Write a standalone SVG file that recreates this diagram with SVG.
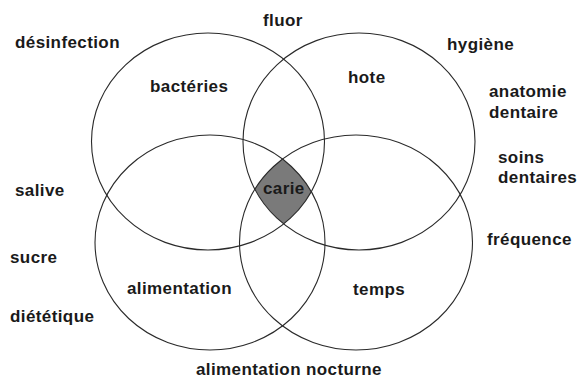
<svg xmlns="http://www.w3.org/2000/svg" width="579" height="378" viewBox="0 0 579 378">
<style>
.c{fill:none;stroke:#2a2a2a;stroke-width:1.1}
text{font-family:"Liberation Sans",Arial,Helvetica,sans-serif;font-weight:bold;font-size:17px;fill:#1a1a1a;letter-spacing:0.4px}
</style>
<defs>
<clipPath id="k1"><ellipse cx="208" cy="141.5" rx="116.5" ry="108.5"/></clipPath>
<clipPath id="k2"><ellipse cx="359" cy="141.5" rx="116" ry="108.5"/></clipPath>
<clipPath id="k3"><ellipse cx="210" cy="242.5" rx="115" ry="107.5"/></clipPath>
</defs>
<rect width="579" height="378" fill="#ffffff"/>
<g id="carie">
<g clip-path="url(#k1)"><g clip-path="url(#k2)"><g clip-path="url(#k3)">
<ellipse cx="356" cy="242.5" rx="116.5" ry="107.5" fill="#7a7a7a"/>
</g></g></g>
<text x="263" y="194">carie</text>
</g>
<g id="connectors"></g>
<g id="bacteries"><ellipse class="c" cx="208" cy="141.5" rx="116.5" ry="108.5"/><text x="150" y="92">bactéries</text></g>
<g id="hote"><ellipse class="c" cx="359" cy="141.5" rx="116" ry="108.5"/><text x="348" y="83">hote</text></g>
<g id="alimentation"><ellipse class="c" cx="210" cy="242.5" rx="115" ry="107.5"/><text x="127" y="294">alimentation</text></g>
<g id="temps"><ellipse class="c" cx="356" cy="242.5" rx="116.5" ry="107.5"/><text x="353" y="295">temps</text></g>
<g id="labels">
<text x="15" y="48">désinfection</text>
<text x="263" y="26">fluor</text>
<text x="447" y="50">hygiène</text>
<text x="489" y="97">anatomie</text>
<text x="489" y="118">dentaire</text>
<text x="498" y="163">soins</text>
<text x="498" y="183">dentaires</text>
<text x="15" y="196">salive</text>
<text x="10" y="263">sucre</text>
<text x="10" y="322">diététique</text>
<text x="487" y="245">fréquence</text>
<text x="196" y="375">alimentation nocturne</text>
</g>
</svg>
